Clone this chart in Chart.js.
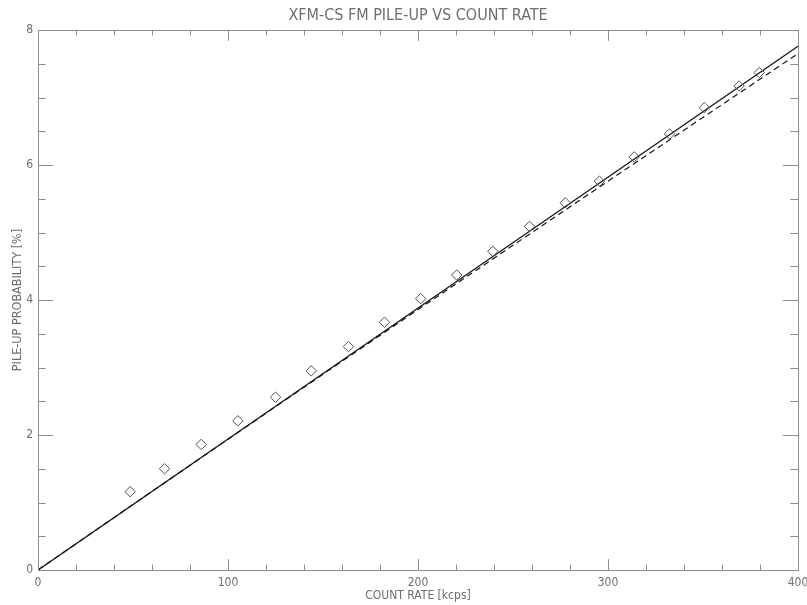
<!DOCTYPE html>
<html>
<head>
<meta charset="utf-8">
<script src="https://cdn.jsdelivr.net/npm/chart.js@4/dist/chart.umd.min.js"></script>
<style>
  html, body { margin: 0; padding: 0; background: #fff; }
  #wrap { width: 807px; height: 605px; }
</style>
</head>
<body>
<div id="wrap"><canvas id="pileChart"></canvas></div>
<script>
// measured pile-up probability (diamonds)
const countRate = [48.5, 66.6, 85.9, 105.2, 125.0, 143.8, 163.4, 182.4, 201.4, 220.4,
                   239.4, 258.7, 277.5, 295.5, 313.8, 332.4, 350.7, 369.0, 379.6];
const pileUp = [1.16, 1.50, 1.86, 2.21, 2.56, 2.95, 3.31, 3.67, 4.02, 4.37,
                4.72, 5.09, 5.44, 5.76, 6.12, 6.46, 6.85, 7.17, 7.37];

// straight line (solid)
const fitRate = [0, 400];
const fitProb = [0, 7.76];

// model curve (dashed)
const modelRate = [0, 50, 100, 150, 200, 250, 300, 350, 400];
const modelProb = [0, 0.97, 1.937, 2.9, 3.858, 4.81, 5.76, 6.705, 7.65];

// axis ticks
const xMajor = [0, 100, 200, 300, 400];
const yMajor = [0, 2, 4, 6, 8];
const xMinorStep = 20;
const yMinorStep = 0.5;

const axisGrey = '#8c8c8c';
const textGrey = '#6e6e6e';
const fam = '"Liberation Sans Narrow", "DejaVu Sans Condensed", "Liberation Sans", sans-serif';

const pts = (xs, ys) => xs.map((x, i) => ({ x: x, y: ys[i] }));

// box around the plot with inward major/minor ticks on all four sides
const frameTicks = {
    id: 'frameTicks',
    afterDatasetsDraw(chart) {
        const { ctx, chartArea: a, scales: { x, y } } = chart;
        ctx.save();
        ctx.strokeStyle = axisGrey;
        ctx.lineWidth = 1;
        ctx.beginPath();
        ctx.rect(a.left + 0.5, a.top + 0.5, a.right - a.left, a.bottom - a.top);
        const xLen = (a.bottom - a.top) * 0.02, yLen = (a.right - a.left) * 0.02;
        for (let v = x.min; v <= x.max + 1e-9; v += xMinorStep) {
            const px = Math.round(x.getPixelForValue(v)) + 0.5;
            const l = xMajor.includes(v) ? xLen : xLen / 2;
            ctx.moveTo(px, a.bottom); ctx.lineTo(px, a.bottom - l);
            ctx.moveTo(px, a.top); ctx.lineTo(px, a.top + l);
        }
        for (let v = y.min; v <= y.max + 1e-9; v += yMinorStep) {
            const py = Math.round(y.getPixelForValue(v)) + 0.5;
            const l = yMajor.includes(v) ? yLen : yLen / 2;
            ctx.moveTo(a.left, py); ctx.lineTo(a.left + l, py);
            ctx.moveTo(a.right, py); ctx.lineTo(a.right - l, py);
        }
        ctx.stroke();
        ctx.restore();
    }
};

new Chart(document.getElementById('pileChart'), {
    type: 'scatter',
    data: {
        datasets: [
            {
                data: pts(countRate, pileUp),
                pointStyle: 'rectRot',
                pointRadius: 5.2,
                borderColor: '#505050',
                backgroundColor: 'rgba(0,0,0,0)',
                borderWidth: 1,
                showLine: false
            },
            {
                data: pts(fitRate, fitProb),
                showLine: true,
                borderColor: '#151515',
                borderWidth: 1.3,
                pointRadius: 0
            },
            {
                data: pts(modelRate, modelProb),
                showLine: true,
                borderColor: '#151515',
                borderWidth: 1.2,
                borderDash: [6, 4],
                pointRadius: 0
            }
        ]
    },
    options: {
        responsive: true,
        maintainAspectRatio: false,
        animation: false,
        layout: { padding: { top: 0, right: 9, bottom: 0, left: 0 } },
        plugins: {
            legend: { display: false },
            tooltip: { enabled: false },
            title: {
                display: true,
                text: 'XFM-CS FM PILE-UP VS COUNT RATE',
                color: textGrey,
                fullSize: false,
                font: { family: fam, size: 16, weight: 'normal' },
                padding: { top: 5.8, bottom: 5 }
            }
        },
        scales: {
            x: {
                type: 'linear',
                min: 0, max: 400,
                grid: { display: false, drawTicks: false },
                border: { display: false },
                ticks: { stepSize: 100, color: textGrey, padding: 6, font: { family: fam, size: 12 } },
                title: {
                    display: true, text: 'COUNT RATE [kcps]', color: textGrey,
                    font: { family: fam, size: 12 }, padding: { top: 0, bottom: 1.5 }
                },
                afterFit(s) { s.height = 35; s.paddingLeft = 0; s.paddingRight = 0; }
            },
            y: {
                type: 'linear',
                min: 0, max: 8,
                grid: { display: false, drawTicks: false },
                border: { display: false },
                ticks: { stepSize: 2, color: textGrey, padding: 5, font: { family: fam, size: 12 } },
                title: {
                    display: true, text: 'PILE-UP PROBABILITY [%]', color: textGrey,
                    font: { family: fam, size: 12.5 }, padding: { top: 10.5, bottom: 0 }
                },
                afterFit(s) { s.width = 38; s.paddingTop = 0; s.paddingBottom = 0; }
            }
        }
    },
    plugins: [frameTicks]
});
</script>
</body>
</html>
